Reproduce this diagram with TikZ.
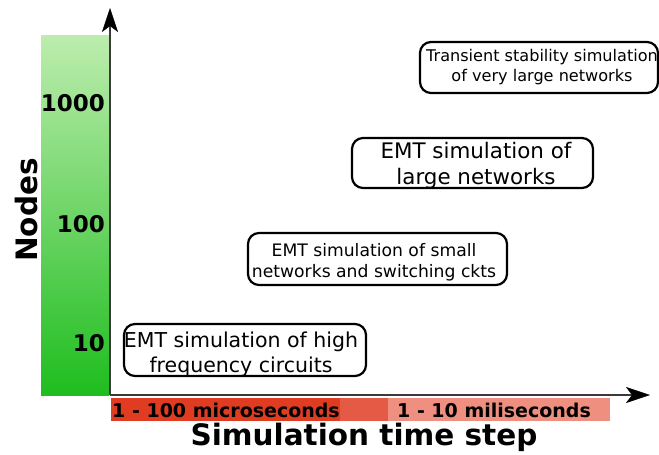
\documentclass[tikz,border=0pt]{standalone}
\usepackage{fontspec}
\setmainfont{DejaVu Sans}
\usetikzlibrary{arrows.meta}
\definecolor{gtop}{HTML}{BDEDAE}
\definecolor{gbot}{HTML}{1FBD1F}
\definecolor{rdark}{HTML}{E03C22}
\definecolor{rmid}{HTML}{E45A44}
\definecolor{rlight}{HTML}{EE8F80}
\definecolor{axisc}{HTML}{3A3A3A}
\tikzset{
  simbox/.style={draw=black, line width=2.2pt, rounded corners=11pt, inner sep=0pt},
  boxtext/.style={align=center, inner sep=0pt, text depth=0pt},
  axisline/.style={draw=axisc, line width=2pt, -{Stealth[length=24pt,width=16pt,inset=6pt,color=black,fill=black,line width=0.5pt]}},
  tick/.style={font=\bfseries\fontsize{23}{26}\selectfont, anchor=east, inner sep=0pt},
  bartext/.style={font=\bfseries\fontsize{19}{22}\selectfont, inner sep=0pt},
  title/.style={font=\bfseries\fontsize{29.5}{32}\selectfont, inner sep=0pt}
}
\begin{document}
\begin{tikzpicture}[x=1pt,y=-1pt]
\useasboundingbox (0,0) rectangle (659,455);
\shade[top color=gtop, bottom color=gbot] (41,35) rectangle (109,395);
\fill[rdark] (111,398) rectangle (340,421);
\fill[rmid] (340,398) rectangle (388,421);
\fill[rlight] (388,398) rectangle (610,421);
\coordinate (o) at (110,395);
\coordinate (ytip) at (110,8);
\coordinate (xtip) at (650,395);
\draw[axisline] (o) -- (ytip);
\draw[axisline] (o) -- (xtip);
\node[tick] (t1000) at (105,103) {1000};
\node[tick] (t100) at (105,224) {100};
\node[tick] (t10) at (105,343) {10};
\node[title, rotate=90] (nodes) at (27,210) {Nodes};
\node[title] (sts) at (364,437) {Simulation time step};
\node[bartext, anchor=west] (micro) at (112,410) {1 - 100 microseconds};
\node[bartext] (milli) at (494,410) {1 - 10 miliseconds};
% boxes
\node[simbox, minimum width=238pt, minimum height=51pt] (b1) at (539,67.5) {};
\node[simbox, minimum width=241pt, minimum height=50pt] (b2) at (472.5,163) {};
\node[simbox, minimum width=259pt, minimum height=52pt] (b3) at (377.5,259) {};
\node[simbox, minimum width=242pt, minimum height=52pt] (b4) at (245,350) {};
% texts
\node[boxtext, font=\fontsize{16.1}{20}\selectfont] (l1) at (542,65.5) {Transient stability simulation\\of very large networks};
\node[boxtext, font=\fontsize{21.4}{26}\selectfont] (l2) at (476,163) {EMT simulation of\\large networks};
\node[boxtext, font=\fontsize{17.2}{21}\selectfont] (l3) at (374,260) {EMT simulation of small\\networks and switching ckts};
\node[boxtext, font=\fontsize{20.5}{25.5}\selectfont] (l4) at (241,352) {EMT simulation of high\\frequency circuits};
\end{tikzpicture}
\end{document}
